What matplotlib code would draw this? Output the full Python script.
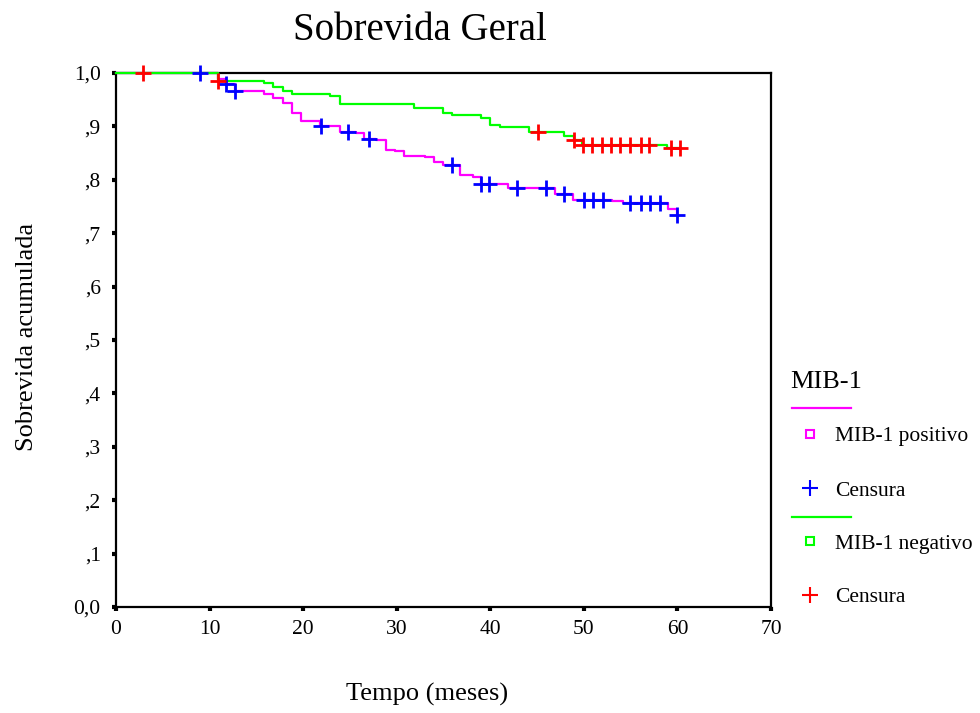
import numpy as np
import matplotlib
matplotlib.use("Agg")
import matplotlib.pyplot as plt
from matplotlib.lines import Line2D

plt.rcParams['font.family'] = ['Liberation Serif', 'DejaVu Serif']

# MIB-1 positivo: event times (months) and survival after each event
t_pos = [10.9, 11.8, 12.7, 15.85, 16.8, 17.8, 18.85, 19.8, 21.8, 23.9, 25.7, 26.5,
         27.8, 28.85, 29.85, 30.8, 33.0, 34.0, 34.9, 36.8, 38.1, 39.0, 41.9, 46.9,
         48.8, 53.0, 54.2, 59.0, 60.0]
s_pos = [0.989, 0.979, 0.967, 0.960, 0.953, 0.943, 0.926, 0.911, 0.900, 0.890, 0.887, 0.877,
         0.874, 0.856, 0.853, 0.845, 0.842, 0.833, 0.827, 0.809, 0.805, 0.793, 0.784, 0.773,
         0.763, 0.761, 0.756, 0.745, 0.734]
c_pos = [9.0, 11.8, 12.7, 21.9, 24.8, 27.0, 35.9, 39.0, 39.9, 42.9, 46.0, 47.9,
         50.0, 51.0, 52.0, 54.9, 56.1, 57.1, 58.1, 60.0]

# MIB-1 negativo
t_neg = [10.9, 15.85, 16.8, 17.8, 18.8, 22.9, 23.9, 31.8, 34.9, 35.9, 39.0, 40.0,
         41.0, 44.1, 47.9, 48.9, 49.8, 58.9]
s_neg = [0.985, 0.982, 0.974, 0.967, 0.960, 0.957, 0.942, 0.934, 0.926, 0.922, 0.916, 0.903,
         0.898, 0.890, 0.882, 0.874, 0.866, 0.859]
c_neg = [2.85, 10.9, 45.1, 48.9, 49.95, 50.9, 51.9, 52.9, 53.9, 54.9, 56.1, 57.0, 59.3, 60.3]

x_ticks = [0, 10, 20, 30, 40, 50, 60, 70]
y_ticks = [0.0, 0.1, 0.2, 0.3, 0.4, 0.5, 0.6, 0.7, 0.8, 0.9, 1.0]
y_labels = ['0,0', ',1', ',2', ',3', ',4', ',5', ',6', ',7', ',8', ',9', '1,0']

MAGENTA = '#ff00ff'
GREEN = '#00ff00'
BLUE = '#0000ff'
RED = '#ff0000'


def km_curve(times, surv, censors):
    # step curve from 0 to last observation
    x = np.concatenate([[0.0], times, [max(max(times), max(censors))]])
    y = np.concatenate([[1.0], surv, [surv[-1]]])
    return x, y


def censor_y(times, surv, censors):
    s = np.concatenate([[1.0], surv])
    idx = np.searchsorted(times, censors, side='right')
    return s[idx]


fig = plt.figure(figsize=(9.8, 7.13), dpi=100)
ax = fig.add_axes([116 / 980, 1 - 607 / 713, 655 / 980, 534 / 713])

xp, yp = km_curve(t_pos, s_pos, c_pos)
xn, yn = km_curve(t_neg, s_neg, c_neg)
ax.step(xp, yp, where='post', color=MAGENTA, lw=1.6, zorder=3, clip_on=False)
ax.step(xn, yn, where='post', color=GREEN, lw=1.6, zorder=3.1, clip_on=False)
ax.plot(c_pos, censor_y(t_pos, s_pos, c_pos), ls='none', marker='+', ms=12, mew=2,
        color=BLUE, zorder=4, clip_on=False)
ax.plot(c_neg, censor_y(t_neg, s_neg, c_neg), ls='none', marker='+', ms=12, mew=2,
        color=RED, zorder=4, clip_on=False)

ax.set_xlim(0, 70)
ax.set_ylim(0, 1)
ax.set_xticks(x_ticks)
ax.set_yticks(y_ticks)
ax.set_yticklabels(y_labels)
for sp in ax.spines.values():
    sp.set_linewidth(1.6)
ax.tick_params(direction='out', length=3, width=3, labelsize=15.5)
ax.tick_params(axis='x', pad=6)
ax.tick_params(axis='y', pad=8)

fig.text(420 / 980, 1 - 30 / 713, 'Sobrevida Geral', ha='center', va='center', fontsize=28)
fig.text(427 / 980, 1 - 694 / 713, 'Tempo (meses)', ha='center', va='center', fontsize=19)
fig.text(27 / 980, 1 - 337 / 713, 'Sobrevida acumulada', ha='center', va='center',
         rotation=90, fontsize=19)

# legend drawn by hand to follow the original layout
def fx(px):
    return px / 980


def fy(py):
    return 1 - py / 713


fig.text(fx(790), fy(382), 'MIB-1', ha='left', va='center', fontsize=19)
legend_rows = [
    ('line', MAGENTA, None, 408),
    ('s', MAGENTA, 'MIB-1 positivo', 434),
    ('+', BLUE, 'Censura', 488),
    ('line', GREEN, None, 517),
    ('s', GREEN, 'MIB-1 negativo', 541),
    ('+', RED, 'Censura', 595),
]
for kind, col, label, py in legend_rows:
    if kind == 'line':
        fig.add_artist(Line2D([fx(792), fx(851)], [fy(py), fy(py)], color=col, lw=1.6,
                              transform=fig.transFigure))
    elif kind == 's':
        fig.add_artist(Line2D([fx(810)], [fy(py)], marker='s', ms=6, mfc='white', mec=col,
                              mew=1.5, ls='none', transform=fig.transFigure))
    else:
        fig.add_artist(Line2D([fx(810)], [fy(py)], marker='+', ms=11, mew=1.5, color=col,
                              ls='none', transform=fig.transFigure))
    if label:
        fig.text(fx(835), fy(py + 3), label, ha='left', va='center', fontsize=15.5)

fig.savefig('out.png', dpi=100)
